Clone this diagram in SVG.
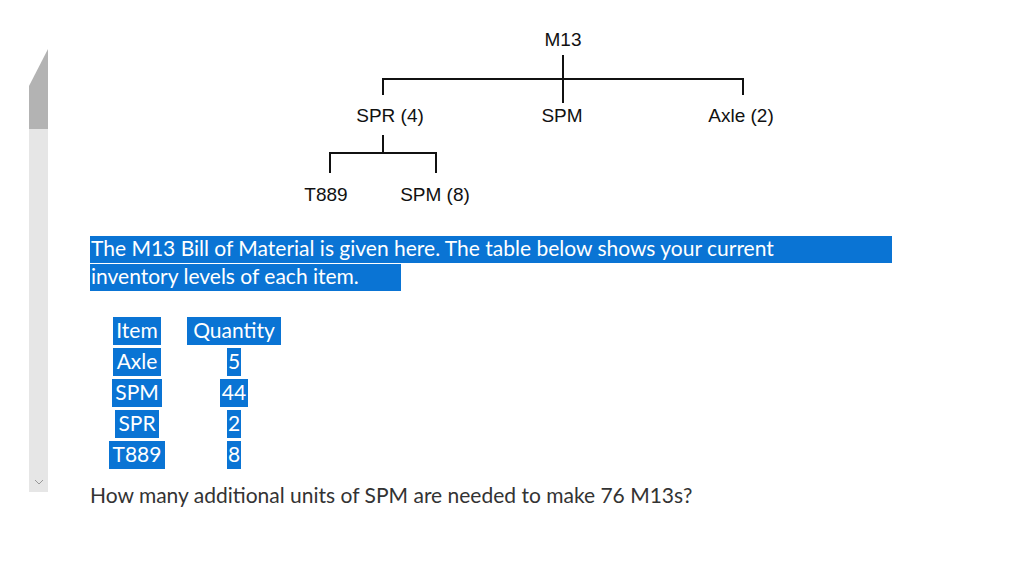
<svg xmlns="http://www.w3.org/2000/svg" width="1016" height="586" viewBox="0 0 1016 586">
<style>
.t{font-family:"Liberation Sans",Arial,sans-serif;font-size:19px;fill:#111;text-anchor:middle}
.l{fill:none;stroke:#111;stroke-width:2}
.p{font-family:Lato,"Open Sans",sans-serif;font-size:21px}
.h{fill:#0a74d4}
.w{fill:#fff}
.c{text-anchor:middle}
</style>
<rect width="1016" height="586" fill="#fff"/>
<rect x="29" y="129" width="19" height="363" fill="#e6e6e6"/>
<polygon points="29,86 48,49 48,129 29,129" fill="#b3b3b3"/>
<path d="M35,480 L39,484 L43,480" fill="none" stroke="#999" stroke-width="1"/>
<g id="connectors">
<path class="l" d="M383,95 V79 H743 V95 M563,55 V103"/>
<path class="l" d="M330,173 V153 H436 V173 M383,135 V153"/>
</g>
<g id="m13"><text class="t" x="563" y="46">M13</text></g>
<g id="spr"><text class="t" x="390" y="122">SPR (4)</text></g>
<g id="spm"><text class="t" x="562" y="122">SPM</text></g>
<g id="axle"><text class="t" x="741" y="122">Axle (2)</text></g>
<g id="t889"><text class="t" x="326" y="201">T889</text></g>
<g id="spm8"><text class="t" x="435" y="201">SPM (8)</text></g>
<rect class="h" x="90" y="236" width="802" height="27"/>
<rect class="h" x="90" y="264" width="311" height="27"/>
<text class="p w" x="91" y="256">The M13 Bill of Material is given here.  The table below shows your current</text>
<text class="p w" x="91" y="284">inventory levels of each item.</text>
<g class="h">
<rect x="113" y="317" width="48" height="28"/><rect x="187" y="317" width="94" height="28"/>
<rect x="113" y="348" width="48" height="28"/><rect x="227" y="348" width="14" height="28"/>
<rect x="112" y="379" width="50" height="28"/><rect x="220" y="379" width="28" height="28"/>
<rect x="115" y="410" width="44" height="28"/><rect x="227" y="410" width="14" height="28"/>
<rect x="109" y="441" width="56" height="28"/><rect x="227" y="441" width="14" height="28"/>
</g>
<g class="p w c">
<text x="137" y="338">Item</text><text x="234" y="338">Quantity</text>
<text x="137" y="369">Axle</text><text x="234" y="369">5</text>
<text x="137" y="400">SPM</text><text x="234" y="400">44</text>
<text x="137" y="431">SPR</text><text x="234" y="431">2</text>
<text x="137" y="462">T889</text><text x="234" y="462">8</text>
</g>
<text class="p" x="90" y="503" fill="#333">How many additional units of SPM are needed to make 76 M13s?</text>
</svg>
